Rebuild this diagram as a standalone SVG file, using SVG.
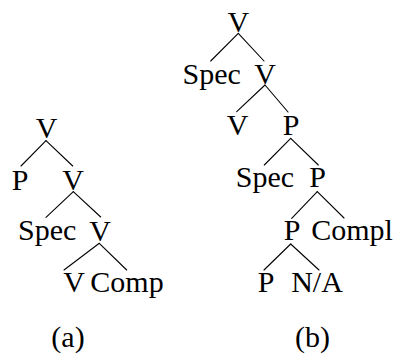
<svg xmlns="http://www.w3.org/2000/svg" width="394" height="354" viewBox="0 0 394 354">
<style>
text{font-family:"Liberation Serif",Tinos,"Nimbus Roman","Nimbus Roman No9 L",FreeSerif,"DejaVu Serif","Noto Serif",Georgia,serif;font-size:30px;fill:#000;text-anchor:middle}
.e line{stroke:#000;stroke-width:1.1;stroke-linecap:round}
</style>
<rect width="394" height="354" fill="#fff"/>
<g id="tree-a">
<g id="a-v1"><text x="46.7" y="138">V</text></g>
<g id="a-p"><text x="20" y="190">P</text></g>
<g id="a-v2"><text x="73" y="190">V</text></g>
<g id="a-spec"><text x="47.2" y="240">Spec</text></g>
<g id="a-v3"><text x="100" y="241">V</text></g>
<g id="a-v4"><text x="74" y="292">V</text></g>
<g id="a-comp"><text x="127" y="292">Comp</text></g>
<g id="a-caption"><text x="68" y="347">(a)</text></g>
</g>
<g id="tree-b">
<g id="b-v1"><text x="238.3" y="32">V</text></g>
<g id="b-spec1"><text x="211.7" y="83.5">Spec</text></g>
<g id="b-v2"><text x="265" y="83.5">V</text></g>
<g id="b-v3"><text x="237.5" y="135">V</text></g>
<g id="b-p1"><text x="291" y="135">P</text></g>
<g id="b-spec2"><text x="265" y="187">Spec</text></g>
<g id="b-p2"><text x="317.5" y="187">P</text></g>
<g id="b-p3"><text x="292" y="240">P</text></g>
<g id="b-compl"><text x="352" y="240">Compl</text></g>
<g id="b-p4"><text x="266" y="292">P</text></g>
<g id="b-na"><text x="317" y="292">N/A</text></g>
<g id="b-caption"><text x="312.5" y="347">(b)</text></g>
</g>
<g id="connectors" class="e">
<line x1="46" y1="140.7" x2="21" y2="166"/>
<line x1="46" y1="140.7" x2="72.7" y2="166"/>
<line x1="73.3" y1="191.7" x2="46" y2="217.3"/>
<line x1="73.3" y1="191.7" x2="100.7" y2="217"/>
<line x1="99.3" y1="243.3" x2="64" y2="270"/>
<line x1="99.3" y1="243.3" x2="126.7" y2="270"/>
<line x1="238.3" y1="33.3" x2="210.7" y2="61"/>
<line x1="238.3" y1="33.3" x2="264" y2="61"/>
<line x1="265" y1="85" x2="236.7" y2="111.7"/>
<line x1="265" y1="85" x2="288" y2="112"/>
<line x1="290.7" y1="138.3" x2="264.3" y2="165"/>
<line x1="290.7" y1="138.3" x2="318.3" y2="165"/>
<line x1="317.3" y1="191.7" x2="291.7" y2="218.3"/>
<line x1="317.3" y1="191.7" x2="344" y2="218"/>
<line x1="290.7" y1="244" x2="264" y2="270"/>
<line x1="290.7" y1="244" x2="319" y2="270"/>
</g>
</svg>
